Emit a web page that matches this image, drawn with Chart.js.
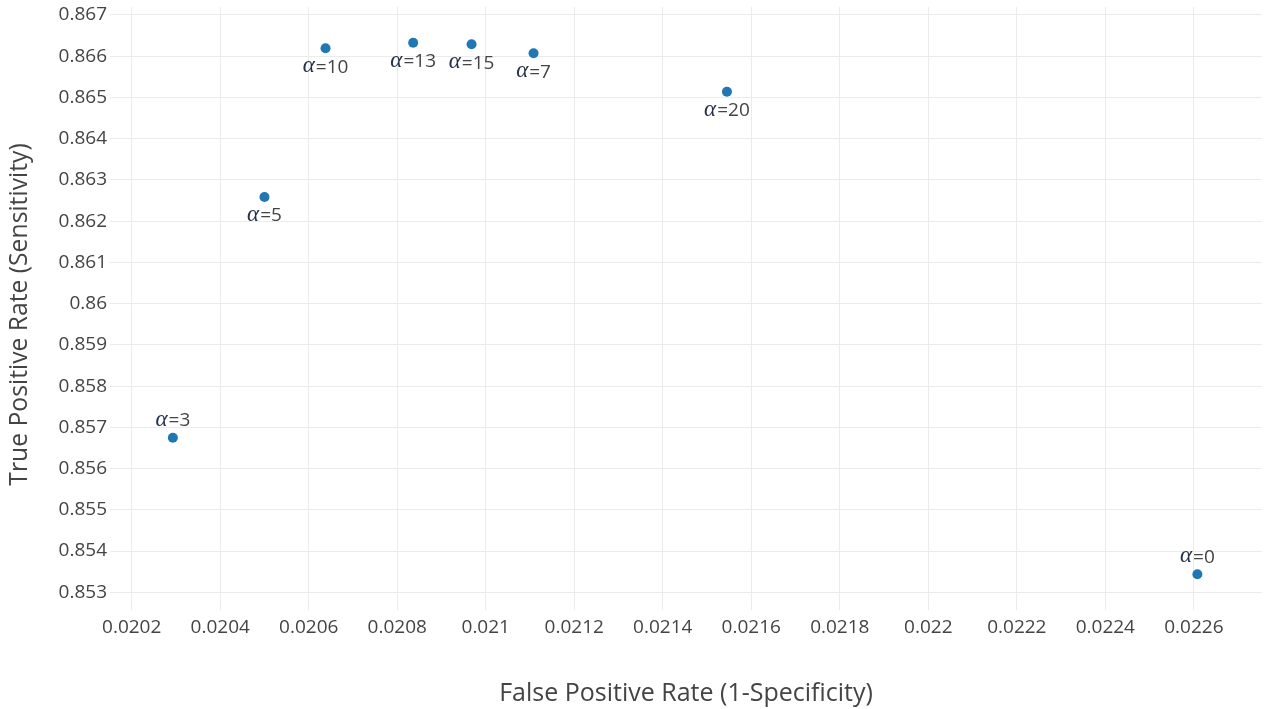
<!DOCTYPE html>
<html>
<head>
<meta charset="utf-8">
<script src="https://cdn.jsdelivr.net/npm/chart.js@4/dist/chart.umd.min.js"></script>
<style>
  html, body { margin: 0; padding: 0; background: #fff; }
  #wrap { width: 1267px; height: 709px; }
</style>
</head>
<body>
<div id="wrap"><canvas id="roc" width="1267" height="709"></canvas></div>
<script>
// Regularisation strength for each operating point
const alphas = [0, 3, 5, 7, 10, 13, 15, 20];
// False positive rate (1 - specificity)
const fpr = [0.022608, 0.020293, 0.020500, 0.021108, 0.020638, 0.020836, 0.020968, 0.021545];
// True positive rate (sensitivity)
const tpr = [0.853436, 0.856750, 0.862587, 0.866071, 0.866193, 0.866328, 0.866290, 0.865140];

// Axis extents and tick spacing
const xRange = [0.020151, 0.022754];
const yRange = [0.852571, 0.867194];
const xStep = 0.0002;
const yStep = 0.001;

const xTitle = 'False Positive Rate (1-Specificity)';
const yTitle = 'True Positive Rate (Sensitivity)';

// Labels drawn above their point (all others sit below)
const labelsAbove = new Set([0, 3]);

const TEXT = '#444444';
const GREEK = '#26324a';
const FONT = '"Open Sans", sans-serif';

const fmt = v => String(parseFloat(Number(v).toFixed(6)));

// "α=N" annotations next to each point
const pointLabels = {
  id: 'pointLabels',
  afterDatasetsDraw(chart) {
    const ctx = chart.ctx;
    const meta = chart.getDatasetMeta(0);
    ctx.save();
    ctx.textBaseline = 'middle';
    ctx.textAlign = 'left';
    meta.data.forEach((pt, i) => {
      const a = alphas[i];
      const greek = 'α';
      const rest = '=' + a;
      ctx.font = 'italic 23px "Liberation Serif", serif';
      const wg = ctx.measureText(greek).width;
      ctx.font = '19px ' + FONT;
      const wr = ctx.measureText(rest).width;
      const total = wg + 1 + wr;
      const cy = labelsAbove.has(a) ? pt.y - 17 : pt.y + 19;
      let x = pt.x - total / 2;
      ctx.font = 'italic 23px "Liberation Serif", serif';
      ctx.fillStyle = GREEK;
      ctx.fillText(greek, x, cy - 1);
      x += wg + 1;
      ctx.font = '19px ' + FONT;
      ctx.fillStyle = TEXT;
      ctx.fillText(rest, x, cy);
    });
    ctx.restore();
  }
};

// Vertical axis title, drawn rotated in the left margin
const yAxisTitle = {
  id: 'yAxisTitle',
  afterDraw(chart) {
    const ctx = chart.ctx;
    const area = chart.chartArea;
    ctx.save();
    ctx.translate(20, (area.top + area.bottom) / 2 + 6);
    ctx.rotate(-Math.PI / 2);
    ctx.textAlign = 'center';
    ctx.textBaseline = 'middle';
    ctx.fillStyle = TEXT;
    ctx.font = '24.7px ' + FONT;
    ctx.fillText(yTitle, 0, 0);
    ctx.restore();
  }
};

new Chart(document.getElementById('roc'), {
  type: 'scatter',
  data: {
    datasets: [{
      data: alphas.map((a, i) => ({ x: fpr[i], y: tpr[i] })),
      backgroundColor: '#1f77b4',
      borderWidth: 0,
      pointRadius: 5,
      pointHoverRadius: 5
    }]
  },
  options: {
    responsive: false,
    animation: false,
    layout: { padding: { top: 7, right: 2, left: 0, bottom: 0 } },
    plugins: { legend: { display: false }, tooltip: { enabled: false } },
    scales: {
      x: {
        type: 'linear',
        min: xRange[0],
        max: xRange[1],
        afterFit: s => { s.height = 99; s.paddingLeft = 0; s.paddingRight = 0; },
        border: { display: false },
        grid: { color: '#ebebeb', lineWidth: 1, drawTicks: false },
        ticks: {
          stepSize: xStep,
          includeBounds: false,
          autoSkip: false,
          maxRotation: 0,
          padding: 6,
          color: TEXT,
          font: { family: FONT, size: 19 },
          callback: v => fmt(v)
        },
        title: {
          display: true,
          text: xTitle,
          color: TEXT,
          font: { family: FONT, size: 25 },
          padding: { top: 0, bottom: 0 }
        }
      },
      y: {
        type: 'linear',
        min: yRange[0],
        max: yRange[1],
        afterFit: s => { s.width = 110; s.paddingTop = 0; s.paddingBottom = 0; },
        border: { display: false },
        grid: { color: '#ebebeb', lineWidth: 1, drawTicks: false },
        ticks: {
          stepSize: yStep,
          includeBounds: false,
          autoSkip: false,
          padding: 3,
          color: TEXT,
          font: { family: FONT, size: 19 },
          callback: v => fmt(v)
        }
      }
    }
  },
  plugins: [pointLabels, yAxisTitle]
});
</script>
</body>
</html>
